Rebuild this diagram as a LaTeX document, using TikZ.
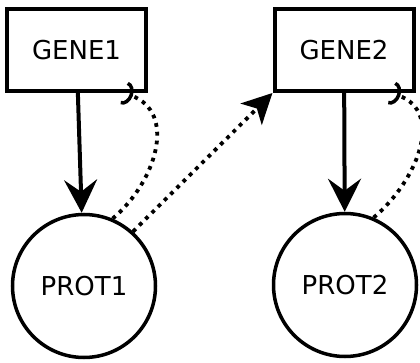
\documentclass[tikz,border=0pt]{standalone}
\usepackage{fontspec}
\setmainfont{DejaVu Sans}
\usetikzlibrary{arrows.meta,positioning}

\begin{document}
\begin{tikzpicture}[x=1pt,y=1pt,node distance=236pt,
  gene/.style={draw,line width=4pt,minimum width=139pt,minimum height=82pt,font=\fontsize{26}{31}\selectfont},
  prot/.style={draw,circle,line width=3.5pt,minimum size=143pt,font=\fontsize{26}{31}\selectfont},
  makes/.style={line width=4pt,-{Stealth[length=33pt,width=33pt,inset=12pt]}},
  dots/.style={line width=3.8pt,dash pattern=on 3.8pt off 5pt},
  acts/.style={dots,-{Stealth[length=30pt,width=30pt,inset=8pt]}},
  inhib/.style={dots,-{Arc Barb[reversed,length=9pt,width=24pt,line width=3.5pt]}}]
  \useasboundingbox (0,0) rectangle (420,-363);
  \node[gene] (g1) at (76.5,-50) {GENE1};
  \node[gene,right of=g1,xshift=31.5pt] (g2) {GENE2};
  \node[prot,below of=g1,xshift=7.5pt] (p1) {PROT1};
  \node[prot,below of=g2,xshift=1pt,yshift=1pt] (p2) {PROT2};

  \draw[makes] (g1) -- (p1);
  \draw[makes] (g2) -- (p2);
  \draw[acts] (p1.48) -- (g2.south west);
  \draw[inhib] (p1.67) to[out=40,in=-20,looseness=1.15] (g1.-42);
  \draw[inhib] (p2.67) to[out=40,in=-20,looseness=1.15] (g2.-42);
\end{tikzpicture}
\end{document}
